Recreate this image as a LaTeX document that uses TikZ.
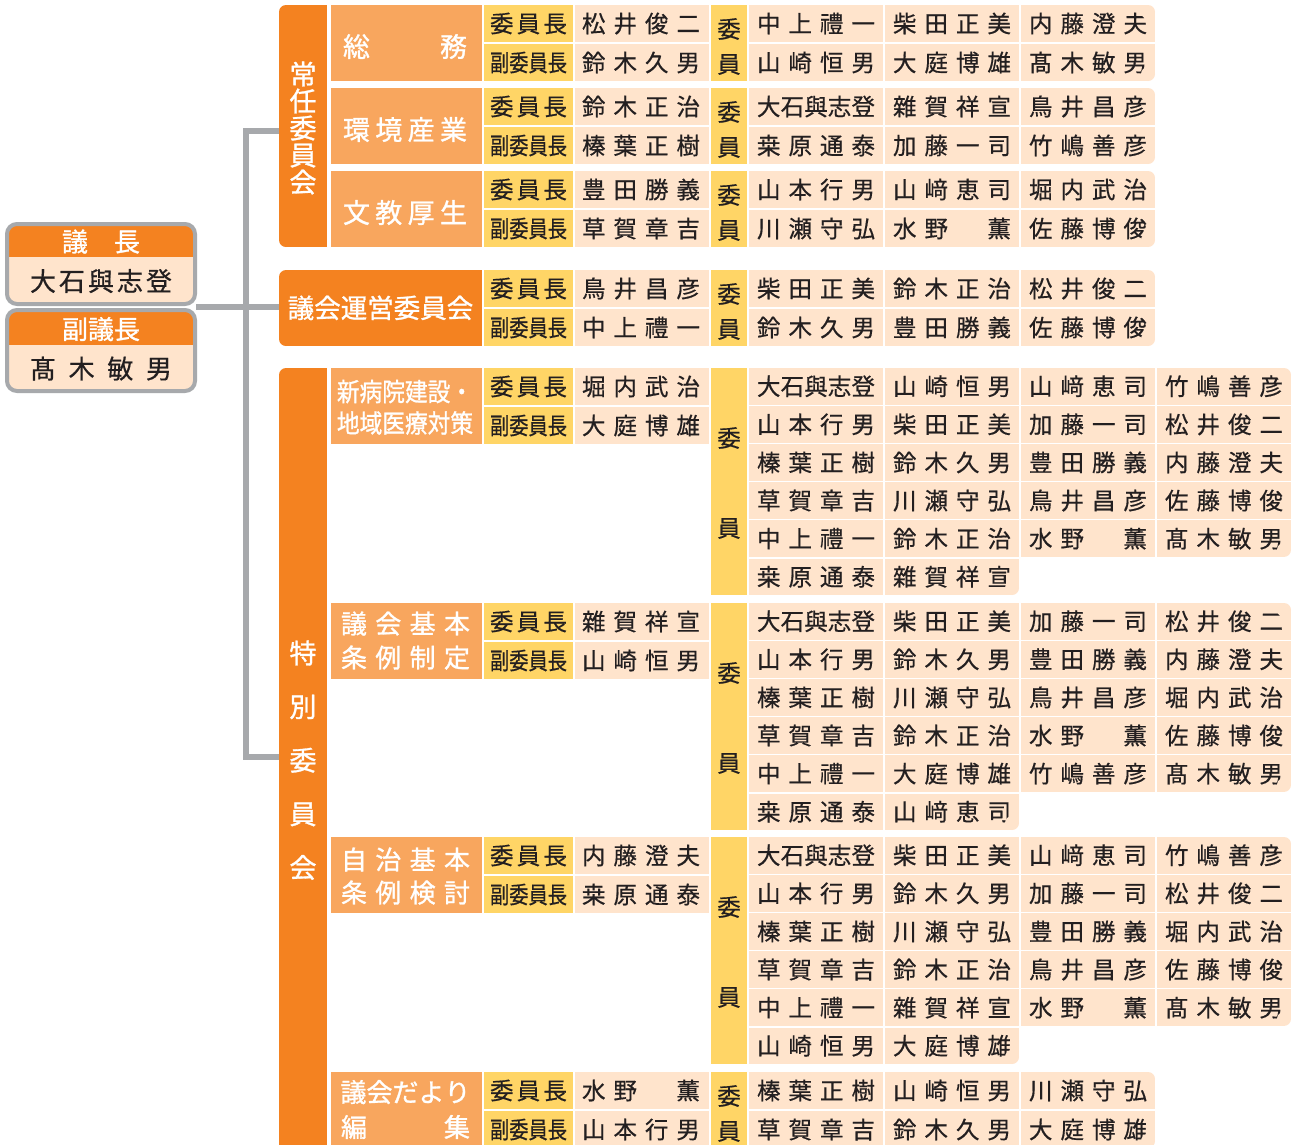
\documentclass[tikz,border=0pt]{standalone}
\usepackage{fontspec}
\setmainfont{Noto Sans CJK JP}
\newfontfamily\medf{Noto Sans CJK JP}[FakeBold=0.5]
\newfontfamily\boldf{Noto Sans CJK JP}[FakeBold=1.1]
\usepackage{graphicx}
\definecolor{org}{HTML}{F48220}
\definecolor{lab}{HTML}{F8A65E}
\definecolor{yel}{HTML}{FFD566}
\definecolor{peach}{HTML}{FFE4CC}
\definecolor{gry}{HTML}{A7A9AC}
\definecolor{ink}{HTML}{231F20}
\newcommand\blank{\phantom{薫}}
\def\spread#1{\spreadi#1\endspread}
\def\spreadi#1#2\endspread{#1\if\relax\detokenize{#2}\relax\else\hfill\spreadi#2\endspread\fi}
\newcommand\spr[1]{\expandafter\spread\expandafter{#1}}
\tikzset{
  nmf/.style={anchor=base, yshift=-8.9pt, inner sep=0pt, outer sep=0pt, text=ink, font=\medf\fontsize{23.5}{23.5}\selectfont},
  bk26/.style={anchor=base, yshift=-9.9pt, inner sep=0pt, outer sep=0pt, text=ink, font=\medf\fontsize{26}{26}\selectfont},
  wt26/.style={anchor=base, yshift=-9.9pt, inner sep=0pt, outer sep=0pt, text=white, font=\boldf\fontsize{26}{26}\selectfont},
  wt27/.style={anchor=base, yshift=-10.3pt, inner sep=0pt, outer sep=0pt, text=white, font=\boldf\fontsize{27}{27}\selectfont},
  wt25/.style={anchor=base, yshift=-9.7pt, inner sep=0pt, outer sep=0pt, text=white, font=\boldf\fontsize{25.5}{25.5}\selectfont},
  conn/.style={draw=gry, line width=6pt},
}
\newcommand\rnd[5]{%
  \fill[white] (#1,#2) rectangle ++(#3,#4);
  \fill[#5] ([shift={(#3,#4)}]#1,#2) circle[radius=7pt];
}
\newcommand\headcells[4]{%
  \fill[yel] (484,#1) rectangle (573,#1+37);
  \fill[yel] (484,#1+39) rectangle (573,#1+76);
  \fill[peach] (575,#1) rectangle (709,#1+37);
  \fill[peach] (575,#1+39) rectangle (709,#1+76);
  \node[nmf] (#2ch) at (528.5,#1+18.5) {\makebox[77pt]{\spread{委員長}}};
  \node[nmf] (#2vc) at (528.5,#1+57.5) {\scalebox{0.82}[1]{副委員長}};
  \node[nmf] (#2chn) at (641,#1+18.5) {\makebox[118pt]{\spread{#3}}};
  \node[nmf] (#2vcn) at (641,#1+57.5) {\makebox[118pt]{\spread{#4}}};
}
\newcommand\iinsmall[2]{%
  \fill[yel] (711,#1) rectangle (747,#1+76);
  \node[nmf] (#2ia) at (729,#1+24) {委};
  \node[nmf] (#2ib) at (729,#1+59) {員};
}
\newcommand\iinbig[2]{%
  \fill[yel] (711,#1) rectangle (747,#1+227);
  \node[nmf] (#2ia) at (729,#1+70) {委};
  \node[nmf] (#2ib) at (729,#1+160) {員};
}
\newcommand\mtwo[3]{%
  \foreach \rowl [count=\ri from 0] in {#3}{
    \foreach \nm [count=\ci from 0] in \rowl {
      \pgfmathsetmacro\xa{749+136*\ci}
      \pgfmathsetmacro\ya{#1+39*\ri}
      \fill[peach] (\xa,\ya) rectangle ++(134,37);
      \node[nmf] (#2m\ri\ci) at (\xa+67,\ya+18.5) {\makebox[118pt]{\spr{\nm}}};
    }
  }
  \rnd{1155}{#1}{-7}{7}{peach}
  \rnd{1155}{#1+76}{-7}{-7}{peach}
}
\newcommand\msix[3]{%
  \foreach \rowl [count=\ri from 0] in {#3}{
    \foreach \nm [count=\ci from 0] in \rowl {
      \pgfmathsetmacro\xa{749+136*\ci}
      \pgfmathsetmacro\ya{#1+38.1*\ri}
      \fill[peach] (\xa,\ya) rectangle ++(134,36.5);
      \node[nmf] (#2m\ri\ci) at (\xa+67,\ya+18.25) {\makebox[118pt]{\spr{\nm}}};
    }
  }
  \rnd{1291}{#1}{-7}{7}{peach}
  \rnd{1291}{#1+188.9}{-7}{-7}{peach}
  \rnd{1019}{#1+227}{-7}{-7}{peach}
}
\begin{document}
\begin{tikzpicture}[x=1pt,y=-1pt]
\useasboundingbox (0,0) rectangle (1296,1144);
\clip (0,0) rectangle (1296,1144);
\fill[white] (0,0) rectangle (1296,1144);

% ---- connectors
\coordinate (join) at (196,307);
\coordinate (jo) at (282,131);
\coordinate (un) at (282,307);
\coordinate (tk) at (282,757);
\coordinate (sp1) at (246,131);
\coordinate (sp2) at (246,757);
\draw[conn] (jo) -- (sp1) -- (sp2) -- (tk);
\draw[conn] (join) -- (un);

% ---- left boxes
\begin{scope}
  \clip[rounded corners=10pt] (7,224) rectangle (195,304);
  \fill[peach] (7,224) rectangle (195,304);
  \fill[org] (7,224) rectangle (195,257);
\end{scope}
\draw[gry, line width=4pt, rounded corners=10pt] (7,224) rectangle (195,304);
\begin{scope}
  \clip[rounded corners=10pt] (7,310) rectangle (195,391);
  \fill[peach] (7,310) rectangle (195,391);
  \fill[org] (7,310) rectangle (195,345);
\end{scope}
\draw[gry, line width=4pt, rounded corners=10pt] (7,310) rectangle (195,391);
\node[wt26] (gicho) at (101,241.5) {\makebox[78pt]{議\hfill 長}};
\node[bk26] (gichoN) at (101,281) {\makebox[142pt]{\spread{大石與志登}}};
\node[wt26] (fuku) at (101,329) {副議長};
\node[bk26] (fukuN) at (101,368.5) {\makebox[142pt]{\spread{髙木敏男}}};

% ---- 常任委員会 column
\fill[org] (279,5) rectangle (327,247);
\rnd{279}{5}{7}{7}{org}
\rnd{279}{247}{7}{-7}{org}
\foreach \ch [count=\ii from 0] in {常,任,委,員,会}{
  \node[wt27] (jo\ii) at (303,74+27*\ii) {\ch};
}

% 総務
\fill[lab] (331,5) rectangle (482,81);
\node[wt27] (la) at (405,46.5) {\makebox[124pt]{総\hfill 務}};
\headcells{5}{a}{松井俊二}{鈴木久男}
\iinsmall{5}{a}
\mtwo{5}{a}{{中上禮一,柴田正美,内藤澄夫},{山崎恒男,大庭博雄,髙木敏男}}

% 環境産業
\fill[lab] (331,88) rectangle (482,164);
\node[wt27] (lb) at (405,129.5) {\makebox[124pt]{\spread{環境産業}}};
\headcells{88}{b}{鈴木正治}{榛葉正樹}
\iinsmall{88}{b}
\mtwo{88}{b}{{大石與志登,雜賀祥宣,鳥井昌彦},{桒原通泰,加藤一司,竹嶋善彦}}

% 文教厚生
\fill[lab] (331,171) rectangle (482,247);
\node[wt27] (lc) at (405,212.5) {\makebox[124pt]{\spread{文教厚生}}};
\headcells{171}{c}{豊田勝義}{草賀章吉}
\iinsmall{171}{c}
\mtwo{171}{c}{{山本行男,山﨑恵司,堀内武治},{川瀬守弘,水野\blank 薫,佐藤博俊}}

% ---- 議会運営委員会
\fill[org] (279,270) rectangle (482,346);
\rnd{279}{270}{7}{7}{org}
\rnd{279}{346}{7}{-7}{org}
\node[wt26] (ld) at (380.5,308) {\fontsize{26.5}{26.5}\selectfont 議会運営委員会};
\headcells{270}{d}{鳥井昌彦}{中上禮一}
\iinsmall{270}{d}
\mtwo{270}{d}{{柴田正美,鈴木正治,松井俊二},{鈴木久男,豊田勝義,佐藤博俊}}

% ---- 特別委員会 column
\fill[org] (279,368) rectangle (327,1160);
\rnd{279}{368}{7}{7}{org}
\foreach \ch [count=\ii from 0] in {特,別,委,員,会}{
  \node[wt27] (tk\ii) at (303,653+53.6*\ii) {\ch};
}

% 新病院建設・地域医療対策
\fill[lab] (331,368) rectangle (482,444);
\node[wt25] (le1) at (405,391.5) {\scalebox{0.89}[1]{新病院建設・}};
\node[wt25] (le2) at (405,423) {\scalebox{0.89}[1]{地域医療対策}};
\headcells{368}{e}{堀内武治}{大庭博雄}
\iinbig{368}{e}
\msix{368}{e}{{大石與志登,山崎恒男,山﨑恵司,竹嶋善彦},{山本行男,柴田正美,加藤一司,松井俊二},{榛葉正樹,鈴木久男,豊田勝義,内藤澄夫},{草賀章吉,川瀬守弘,鳥井昌彦,佐藤博俊},{中上禮一,鈴木正治,水野\blank 薫,髙木敏男},{桒原通泰,雜賀祥宣}}

% 議会基本条例制定
\fill[lab] (331,603) rectangle (482,679);
\node[wt26] (lf1) at (405.5,623.5) {\makebox[129pt]{\spread{議会基本}}};
\node[wt26] (lf2) at (405.5,657.5) {\makebox[129pt]{\spread{条例制定}}};
\headcells{603}{f}{雜賀祥宣}{山崎恒男}
\iinbig{603}{f}
\msix{603}{f}{{大石與志登,柴田正美,加藤一司,松井俊二},{山本行男,鈴木久男,豊田勝義,内藤澄夫},{榛葉正樹,川瀬守弘,鳥井昌彦,堀内武治},{草賀章吉,鈴木正治,水野\blank 薫,佐藤博俊},{中上禮一,大庭博雄,竹嶋善彦,髙木敏男},{桒原通泰,山﨑恵司}}

% 自治基本条例検討
\fill[lab] (331,837) rectangle (482,913);
\node[wt26] (lg1) at (405.5,859.5) {\makebox[129pt]{\spread{自治基本}}};
\node[wt26] (lg2) at (405.5,892.5) {\makebox[129pt]{\spread{条例検討}}};
\headcells{837}{g}{内藤澄夫}{桒原通泰}
\iinbig{837}{g}
\msix{837}{g}{{大石與志登,柴田正美,山﨑恵司,竹嶋善彦},{山本行男,鈴木久男,加藤一司,松井俊二},{榛葉正樹,川瀬守弘,豊田勝義,堀内武治},{草賀章吉,鈴木正治,鳥井昌彦,佐藤博俊},{中上禮一,雜賀祥宣,水野\blank 薫,髙木敏男},{山崎恒男,大庭博雄}}

% 議会だより編集
\fill[lab] (331,1072) rectangle (482,1148);
\node[wt26] (lh1) at (405.5,1092) {\makebox[129pt]{\spread{議会だより}}};
\node[wt26] (lh2) at (405.5,1127) {\makebox[129pt]{編\hfill 集}};
\headcells{1072}{h}{水野\blank 薫}{山本行男}
\iinsmall{1072}{h}
\mtwo{1072}{h}{{榛葉正樹,山崎恒男,川瀬守弘},{草賀章吉,鈴木久男,大庭博雄}}
\end{tikzpicture}
\end{document}
